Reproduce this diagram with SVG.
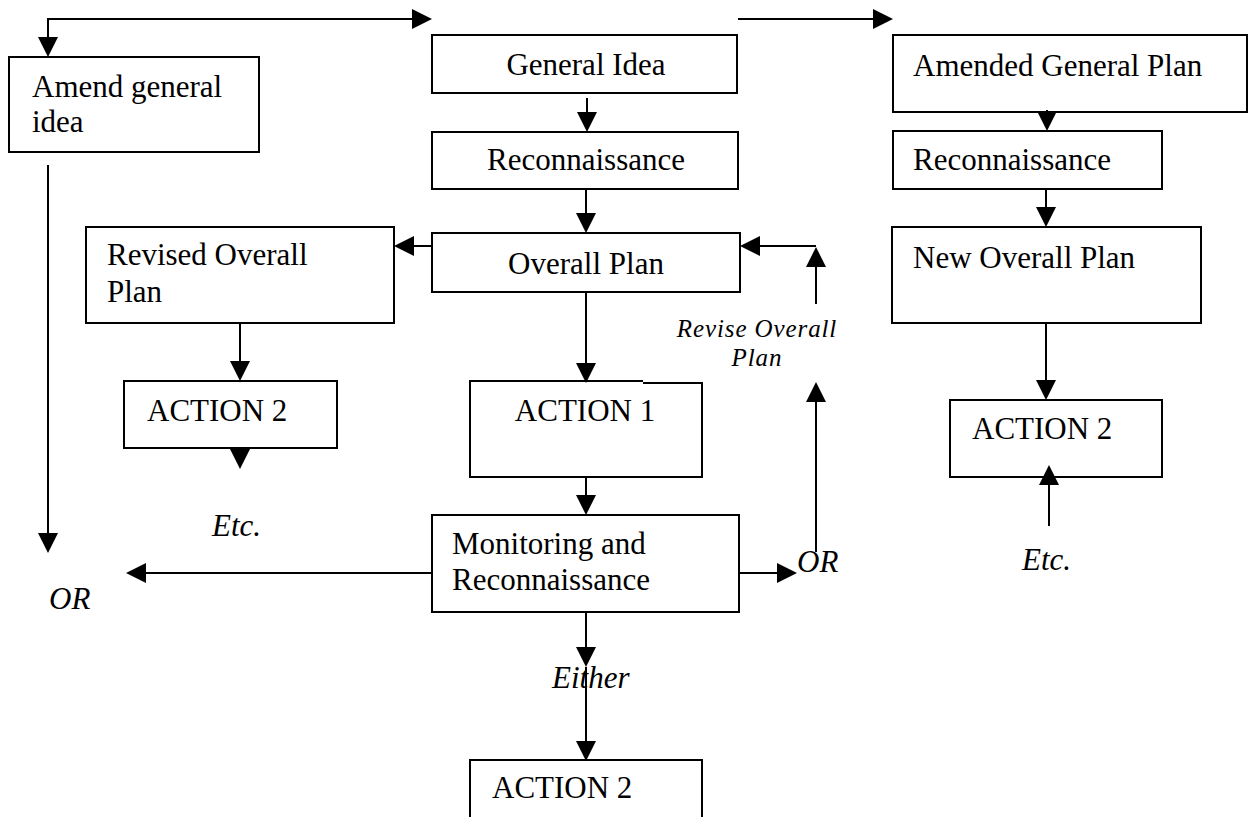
<svg xmlns="http://www.w3.org/2000/svg" width="1251" height="817" viewBox="0 0 1251 817">
<style>
.box{fill:#fff;stroke:#000;stroke-width:2}
.t{font-family:"Liberation Serif","Times New Roman",serif;font-size:31px;fill:#000}
.i{font-family:"Liberation Serif","Times New Roman",serif;font-size:31px;font-style:italic;fill:#000}
.s{font-family:"Liberation Serif","Times New Roman",serif;font-size:25px;font-style:italic;letter-spacing:0.9px;fill:#000}
.c{fill:none;stroke:#000;stroke-width:2;marker-end:url(#ah)}
.p{fill:none;stroke:#000;stroke-width:2}
</style>
<defs>
<marker id="ah" viewBox="0 0 20 20" markerWidth="20" markerHeight="20" markerUnits="userSpaceOnUse" refX="0" refY="10" orient="auto">
<path d="M0,0 L20,10 L0,20 z" fill="#000"/>
</marker>
</defs>
<rect width="1251" height="817" fill="#fff"/>

<g id="amend-general-idea">
<rect class="box" x="9" y="57" width="250" height="95"/>
<text class="t" x="32" y="97">Amend general</text>
<text class="t" x="32" y="132">idea</text>
</g>
<g id="general-idea">
<rect class="box" x="432" y="35" width="305" height="58"/>
<text class="t" x="586" y="75" text-anchor="middle">General Idea</text>
</g>
<g id="reconnaissance-1">
<rect class="box" x="432" y="132" width="306" height="57"/>
<text class="t" x="586" y="170" text-anchor="middle">Reconnaissance</text>
</g>
<g id="overall-plan">
<rect class="box" x="432" y="233" width="308" height="59"/>
<text class="t" x="586" y="274" text-anchor="middle">Overall Plan</text>
</g>
<g id="revised-overall-plan">
<rect class="box" x="86" y="227" width="308" height="96"/>
<text class="t" x="107" y="265">Revised Overall</text>
<text class="t" x="107" y="302">Plan</text>
</g>
<g id="action2-left">
<rect class="box" x="124" y="381" width="213" height="67"/>
<text class="t" x="147" y="421">ACTION 2</text>
</g>
<g id="action1">
<rect x="470" y="382" width="232" height="95" fill="#fff"/>
<path class="p" d="M643,381 L470,381 L470,477 L702,477 L702,383 L643,383"/>
<text class="t" x="585" y="421" text-anchor="middle">ACTION 1</text>
</g>
<g id="monitoring">
<rect class="box" x="432" y="515" width="307" height="97"/>
<text class="t" x="452" y="554">Monitoring and</text>
<text class="t" x="452" y="590">Reconnaissance</text>
</g>
<g id="action2-bottom">
<rect class="box" x="470" y="760" width="232" height="80"/>
<text class="t" x="492" y="798">ACTION 2</text>
</g>
<g id="amended-general-plan">
<rect class="box" x="893" y="35" width="354" height="77"/>
<text class="t" x="913" y="76">Amended General Plan</text>
</g>
<g id="reconnaissance-2">
<rect class="box" x="893" y="131" width="269" height="58"/>
<text class="t" x="913" y="170">Reconnaissance</text>
</g>
<g id="new-overall-plan">
<rect class="box" x="892" y="227" width="309" height="96"/>
<text class="t" x="913" y="268">New Overall Plan</text>
</g>
<g id="action2-right">
<rect class="box" x="950" y="400" width="212" height="77"/>
<text class="t" x="972" y="439">ACTION 2</text>
</g>

<g id="connectors">
<path class="c" d="M48,37 L48,19 L412,19"/>
<path class="c" d="M48,19 L48,37"/>
<path class="c" d="M738,19 L873,19"/>
<path class="c" d="M587,98 L587,112"/>
<path class="c" d="M586,189 L586,213"/>
<path class="c" d="M432,246 L414,246"/>
<path class="c" d="M816,246 L760,246"/>
<path class="c" d="M816,304 L816,267"/>
<path class="c" d="M240,323 L240,361"/>
<path class="c" d="M240,447 L240,449"/>
<path class="c" d="M586,292 L586,363"/>
<path class="c" d="M586,477 L586,495"/>
<path class="c" d="M432,573 L146,573"/>
<path class="c" d="M739,573 L777,573"/>
<path class="c" d="M816,552 L816,402"/>
<path class="c" d="M48,165 L48,533"/>
<path class="c" d="M586,612 L586,647"/>
<path class="c" d="M586,667 L586,741"/>
<path class="c" d="M1047,110 L1047,111"/>
<path class="c" d="M1046,189 L1046,207"/>
<path class="c" d="M1046,323 L1046,380"/>
<path class="c" d="M1049,526 L1049,485"/>
</g>

<g id="labels">
<text class="s" x="757" y="337" text-anchor="middle">Revise Overall</text>
<text class="s" x="757" y="366" text-anchor="middle">Plan</text>
<text class="i" x="212" y="536">Etc.</text>
<text class="i" x="1022" y="570">Etc.</text>
<text class="i" x="49" y="609">OR</text>
<text class="i" x="797" y="572">OR</text>
<text class="i" x="552" y="688">Either</text>
</g>
</svg>
